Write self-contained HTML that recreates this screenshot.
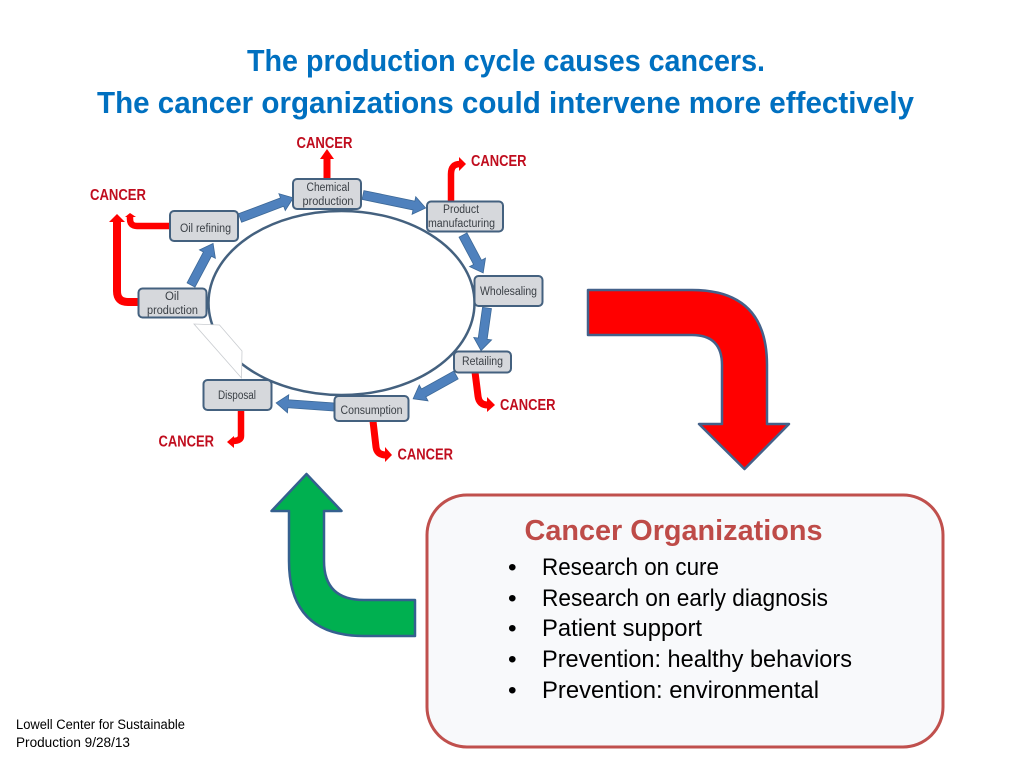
<!DOCTYPE html>
<html><head><meta charset="utf-8"><style>html,body{margin:0;padding:0;background:#fff}svg{display:block}text{font-family:"Liberation Sans",sans-serif}</style></head><body>
<svg width="1024" height="768" viewBox="0 0 1024 768" xmlns="http://www.w3.org/2000/svg">
<rect width="1024" height="768" fill="#fff"/>
<g font-size="31" font-weight="bold" fill="#0070c0" text-anchor="middle">
<text x="506" y="71" textLength="518" lengthAdjust="spacingAndGlyphs">The production cycle causes cancers.</text>
<text x="505.500" y="113" textLength="817" lengthAdjust="spacingAndGlyphs">The cancer organizations could intervene more effectively</text>
</g>
<ellipse cx="341.500" cy="303" rx="133" ry="92" fill="#fff" stroke="#44617f" stroke-width="2.500"/>
<polygon points="194,324 219.500,325 242,351 241.500,378" fill="#fff" stroke="#c9ccd0" stroke-width="0.800"/>
<g fill="none" stroke="#ff0000" stroke-width="7">
<path d="M138,302 H128 Q117,302 117,291 V221" stroke-width="8"/>
<path d="M170,226 H137 Q130,226 130,219 V216" stroke-width="6.500"/>
<path d="M327,179 V158"/>
<path d="M451,201 V174 Q451,164 460,164" stroke-width="6.500"/>
<path d="M475,372 L478,396 Q479,405 488,405"/>
<path d="M373,421 L376,447 Q377,455 386,455"/>
<path d="M241,410 V436 Q241,441 232,441" stroke-width="6.500"/>
</g>
<g fill="#ff0000">
<polygon points="109,222 117,214 125,222"/>
<polygon points="125,217 130,213 136,217"/>
<polygon points="320,159 327,149 334,159"/>
<polygon points="459,157 466,164 459,171"/>
<polygon points="487,397 495,405 487,412"/>
<polygon points="385,447 392,455 385,462"/>
<polygon points="234,436 227,442 234,448"/>
</g>
<g fill="#4f81bd" stroke="#3c6897" stroke-width="0.800">
<polygon transform="translate(191,285) rotate(-62)" points="0,-4.500 35,-4.500 35,-9 47,0 35,9 35,4.500 0,4.500"/>
<polygon transform="translate(240,218) rotate(-20.700)" points="0,-4.500 45,-4.500 45,-9 57,0 45,9 45,4.500 0,4.500"/>
<polygon transform="translate(363,195) rotate(11.700)" points="0,-4.500 52,-4.500 52,-9 64,0 52,9 52,4.500 0,4.500"/>
<polygon transform="translate(463,235) rotate(62)" points="0,-4.500 31,-4.500 31,-9 43,0 31,9 31,4.500 0,4.500"/>
<polygon transform="translate(487,308) rotate(98)" points="0,-4.500 31,-4.500 31,-9 43,0 31,9 31,4.500 0,4.500"/>
<polygon transform="translate(456,375) rotate(151)" points="0,-4.500 37,-4.500 37,-9 49,0 37,9 37,4.500 0,4.500"/>
<polygon transform="translate(334,407) rotate(184)" points="0,-4 46,-4 46,-9 58,0 46,9 46,4 0,4"/>
</g>
<g fill="#d6d8dc" stroke="#44617f" stroke-width="2">
<rect x="138.500" y="288.500" width="68" height="29" rx="4"/>
<rect x="170" y="211" width="68" height="30" rx="4"/>
<rect x="293" y="179" width="68" height="30" rx="4"/>
<rect x="427" y="201.500" width="76" height="30" rx="4"/>
<rect x="474.500" y="276" width="68" height="30" rx="4"/>
<rect x="454" y="351.500" width="57" height="21" rx="4"/>
<rect x="334.500" y="396" width="74" height="25" rx="4"/>
<rect x="203.500" y="380" width="68" height="30" rx="4"/>
</g>
<g font-size="11.500" fill="#3a3f45" text-anchor="middle">
<text x="172" y="300">Oil</text>
<text x="172.500" y="314" textLength="51" lengthAdjust="spacingAndGlyphs">production</text>
<text x="205.500" y="232" textLength="51" lengthAdjust="spacingAndGlyphs">Oil refining</text>
<text x="328" y="191" textLength="43" lengthAdjust="spacingAndGlyphs">Chemical</text>
<text x="328" y="205" textLength="51" lengthAdjust="spacingAndGlyphs">production</text>
<text x="461" y="213" textLength="36" lengthAdjust="spacingAndGlyphs">Product</text>
<text x="461.500" y="227" textLength="67" lengthAdjust="spacingAndGlyphs">manufacturing</text>
<text x="508.500" y="295" textLength="57" lengthAdjust="spacingAndGlyphs">Wholesaling</text>
<text x="482.500" y="365" textLength="41" lengthAdjust="spacingAndGlyphs">Retailing</text>
<text x="371.500" y="414" textLength="62" lengthAdjust="spacingAndGlyphs">Consumption</text>
<text x="237" y="399" textLength="38" lengthAdjust="spacingAndGlyphs">Disposal</text>
</g>
<g font-size="15.500" font-weight="bold" fill="#c00d1e">
<text x="90" y="200" textLength="56" lengthAdjust="spacingAndGlyphs">CANCER</text>
<text x="296.500" y="148" textLength="56" lengthAdjust="spacingAndGlyphs">CANCER</text>
<text x="471" y="166" textLength="55.500" lengthAdjust="spacingAndGlyphs">CANCER</text>
<text x="500" y="410" textLength="55.500" lengthAdjust="spacingAndGlyphs">CANCER</text>
<text x="397.500" y="459.500" textLength="55.500" lengthAdjust="spacingAndGlyphs">CANCER</text>
<text x="158.500" y="446.500" textLength="55.500" lengthAdjust="spacingAndGlyphs">CANCER</text>
</g>
<path d="M588,290 H692 Q767,290 767,365 V424 H789 L744.500,469 L699,424 H722 V365 Q722,335 692,335 H588 Z" fill="#ff0000" stroke="#44618a" stroke-width="2.500" stroke-linejoin="round"/>
<path d="M415,636 H364 Q289,636 289,561 V511 H271.500 L306.500,474 L341.500,511 H324 V561 Q324,600 364,600 H415 Z" fill="#00b050" stroke="#35608f" stroke-width="2.500" stroke-linejoin="round"/>
<rect x="427" y="495" width="516" height="252" rx="40" fill="#f8f9fb" stroke="#c0504d" stroke-width="3"/>
<text x="673.500" y="540" font-size="29" font-weight="bold" fill="#be4b48" text-anchor="middle" textLength="298" lengthAdjust="spacingAndGlyphs">Cancer Organizations</text>
<g font-size="24.500" fill="#000">
<text x="508" y="575">•</text><text x="542" y="575" textLength="177" lengthAdjust="spacingAndGlyphs">Research on cure</text>
<text x="508" y="606">•</text><text x="542" y="606" textLength="286" lengthAdjust="spacingAndGlyphs">Research on early diagnosis</text>
<text x="508" y="636">•</text><text x="542" y="636" textLength="160" lengthAdjust="spacingAndGlyphs">Patient support</text>
<text x="508" y="667">•</text><text x="542" y="667" textLength="310" lengthAdjust="spacingAndGlyphs">Prevention: healthy behaviors</text>
<text x="508" y="698">•</text><text x="542" y="698" textLength="277" lengthAdjust="spacingAndGlyphs">Prevention: environmental</text>
</g>
<g font-size="13.500" fill="#000">
<text x="16" y="729" textLength="169" lengthAdjust="spacingAndGlyphs">Lowell Center for Sustainable</text>
<text x="16" y="747" textLength="114" lengthAdjust="spacingAndGlyphs">Production 9/28/13</text>
</g>
</svg>
</body></html>
